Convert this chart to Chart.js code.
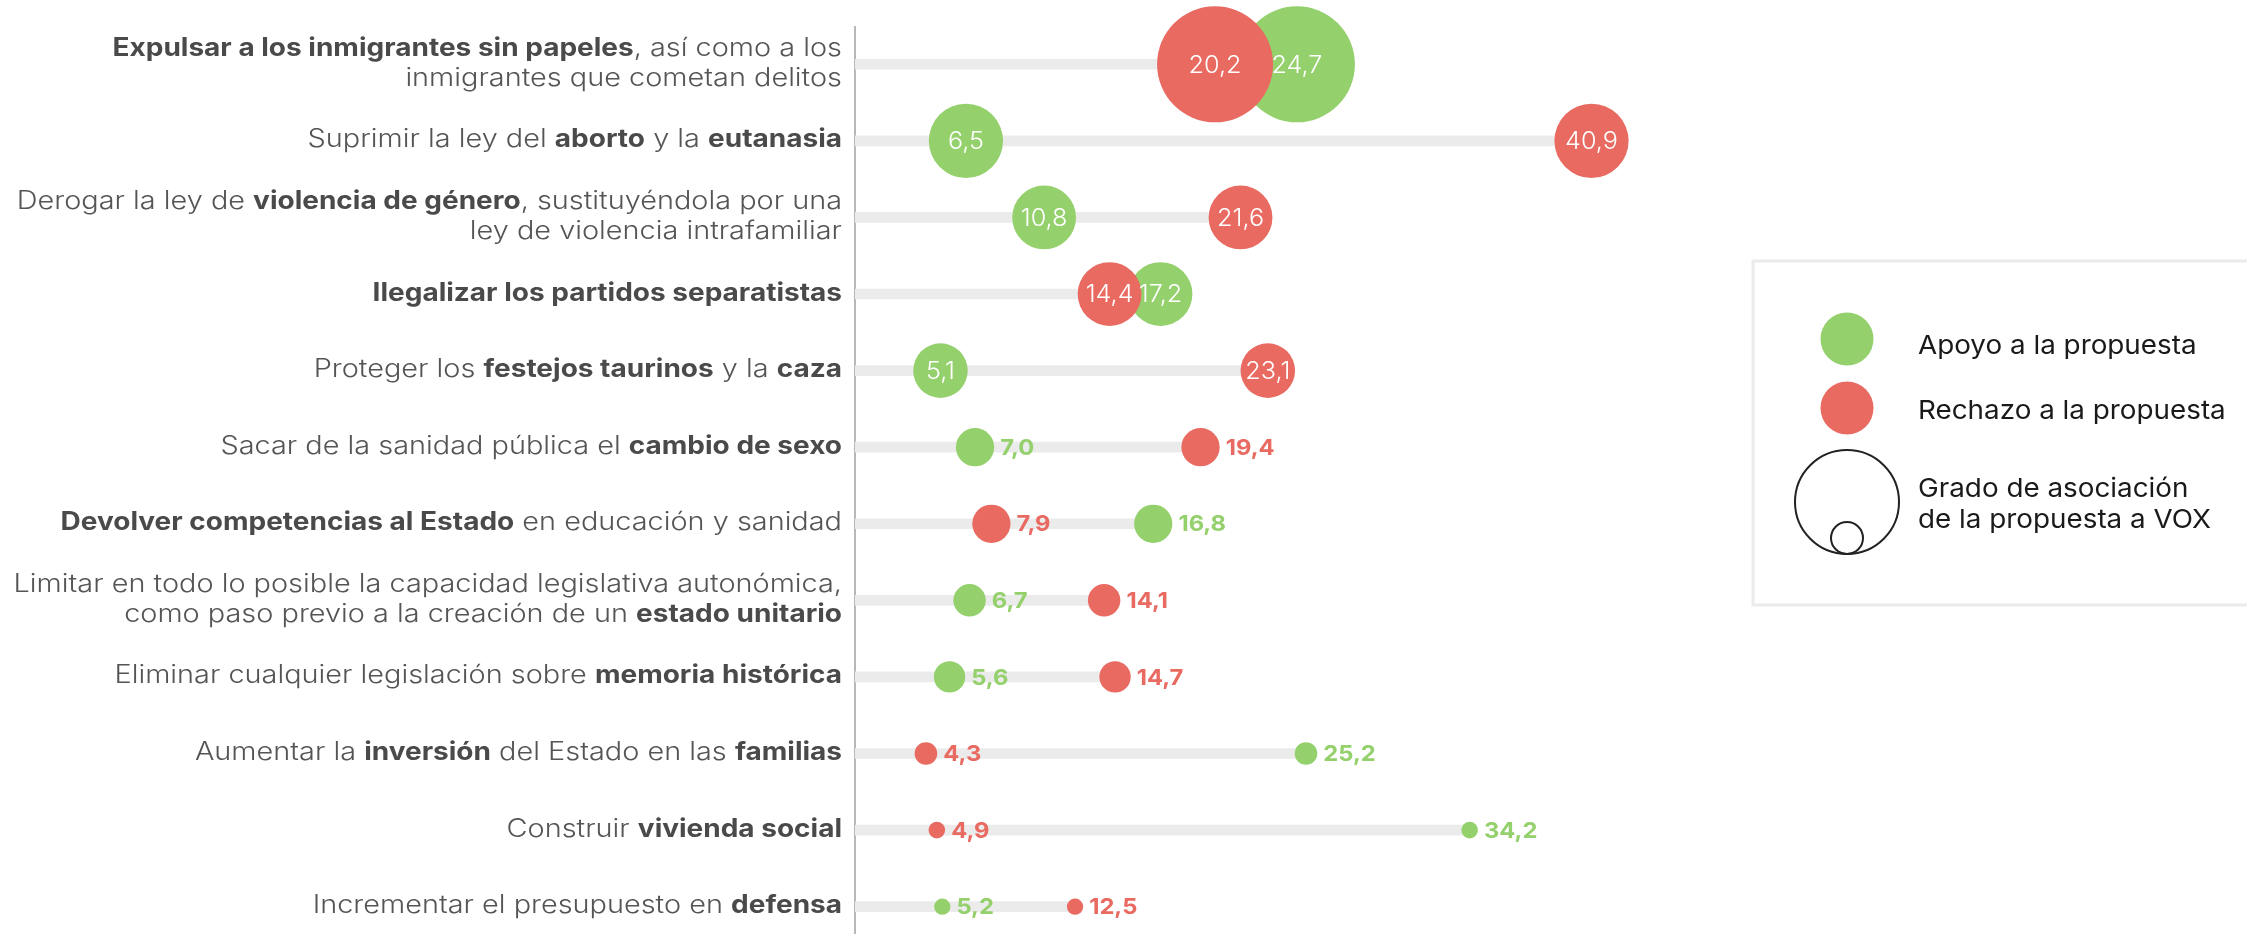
<!DOCTYPE html>
<html lang="es">
<head>
<meta charset="utf-8">
<title>Propuestas de VOX</title>
<script src="https://cdn.jsdelivr.net/npm/chart.js@4.4.1/dist/chart.umd.min.js"></script>
<style>
  html, body { margin: 0; padding: 0; background: #fff; }
  #wrap { position: relative; width: 2247px; height: 934px; }
</style>
</head>
<body>
<div id="wrap"><canvas id="myChart"></canvas></div>
<script>
'use strict';

// propuestas; el texto entre ** va en negrita
const propuestas = [
    ['**Expulsar a los inmigrantes sin papeles**, así como a los', 'inmigrantes que cometan delitos'],
    'Suprimir la ley del **aborto** y la **eutanasia**',
    ['Derogar la ley de **violencia de género**, sustituyéndola por una', 'ley de violencia intrafamiliar'],
    '**Ilegalizar los partidos separatistas**',
    'Proteger los **festejos taurinos** y la **caza**',
    'Sacar de la sanidad pública el **cambio de sexo**',
    '**Devolver competencias al Estado** en educación y sanidad',
    ['Limitar en todo lo posible la capacidad legislativa autonómica,', 'como paso previo a la creación de un **estado unitario**'],
    'Eliminar cualquier legislación sobre **memoria histórica**',
    'Aumentar la **inversión** del Estado en las **familias**',
    'Construir **vivienda social**',
    'Incrementar el presupuesto en **defensa**'
];
const apoyo = [24.7, 6.5, 10.8, 17.2, 5.1, 7.0, 16.8, 6.7, 5.6, 25.2, 34.2, 5.2];
const rechazo = [20.2, 40.9, 21.6, 14.4, 23.1, 19.4, 7.9, 14.1, 14.7, 4.3, 4.9, 12.5];
const asociacion = [100, 64, 55, 55, 47, 33, 33, 28, 27, 19.5, 14.3, 14];

const VERDE = '#94d06c';
const ROJO = '#e86a61';
const FONT = 'Inter, "Open Sans", sans-serif';

const fmt = v => v.toFixed(1).replace('.', ',');
const radio = a => a * 0.58;

// texto algo más ancho, para parecerse a la tipografía original
const texto = (ctx, t, x, y, sx) => {
    ctx.save();
    ctx.translate(x, y);
    ctx.scale(sx, 1);
    ctx.fillText(t, 0, 0);
    ctx.restore();
};

const etiquetas = {
    id: 'etiquetas',
    beforeDatasetsDraw(chart) {
        const {ctx, chartArea} = chart;
        ctx.save();
        ctx.strokeStyle = '#a0a0a0';
        ctx.lineWidth = 1.5;
        ctx.beginPath();
        ctx.moveTo(chartArea.left, chartArea.top);
        ctx.lineTo(chartArea.left, chart.height);
        ctx.stroke();
        ctx.restore();
    },
    afterDatasetsDraw(chart) {
        const {ctx, chartArea} = chart;
        const xs = chart.scales.x;
        const ys = chart.scales.y;
        ctx.save();

        // valores
        [[apoyo, VERDE], [rechazo, ROJO]].forEach(([serie, color]) => {
            serie.forEach((v, i) => {
                const cx = xs.getPixelForValue(v);
                const cy = ys.getPixelForValue(i);
                const r = radio(asociacion[i]);
                ctx.textBaseline = 'middle';
                if (r > 24) {
                    ctx.font = '300 24px ' + FONT;
                    ctx.fillStyle = '#ffffff';
                    ctx.textAlign = 'center';
                    texto(ctx, fmt(v), cx, cy + 1, 1.05);
                } else {
                    ctx.font = '700 22px ' + FONT;
                    ctx.fillStyle = color;
                    ctx.textAlign = 'left';
                    texto(ctx, fmt(v), cx + r + 6, cy + 1, 1.08);
                }
            });
        });

        // textos de las propuestas
        ctx.textAlign = 'left';
        ctx.textBaseline = 'middle';
        const fuente = k => (k % 2 ? '700 25px ' : '300 25px ') + FONT;
        const ancho = k => (k % 2 ? 1.12 : 1.155);
        propuestas.forEach((p, i) => {
            const lineas = Array.isArray(p) ? p : [p];
            const cy = ys.getPixelForValue(i) - 1;
            lineas.forEach((linea, li) => {
                const ly = cy + (li - (lineas.length - 1) / 2) * 30;
                const trozos = linea.split('**');
                let w = 0;
                trozos.forEach((t, k) => { ctx.font = fuente(k); w += ctx.measureText(t).width * ancho(k); });
                let px = chartArea.left - 13 - w;
                trozos.forEach((t, k) => {
                    ctx.font = fuente(k);
                    ctx.fillStyle = k % 2 ? '#4a4a4a' : '#555555';
                    texto(ctx, t, px, ly, ancho(k));
                    px += ctx.measureText(t).width * ancho(k);
                });
            });
        });

        // leyenda
        ctx.strokeStyle = '#ebebeb';
        ctx.lineWidth = 3;
        ctx.strokeRect(1753, 261, 520, 344);
        ctx.fillStyle = VERDE;
        ctx.beginPath(); ctx.arc(1847, 339, 26.5, 0, Math.PI * 2); ctx.fill();
        ctx.fillStyle = ROJO;
        ctx.beginPath(); ctx.arc(1847, 408, 26.5, 0, Math.PI * 2); ctx.fill();
        ctx.strokeStyle = '#222222';
        ctx.lineWidth = 2;
        ctx.beginPath(); ctx.arc(1847, 502, 52, 0, Math.PI * 2); ctx.stroke();
        ctx.beginPath(); ctx.arc(1847, 538, 16, 0, Math.PI * 2); ctx.stroke();
        ctx.font = '400 26px ' + FONT;
        ctx.fillStyle = '#1a1a1a';
        ctx.textAlign = 'left';
        ctx.textBaseline = 'alphabetic';
        texto(ctx, 'Apoyo a la propuesta', 1918, 354, 1.07);
        texto(ctx, 'Rechazo a la propuesta', 1918, 419, 1.07);
        texto(ctx, 'Grado de asociación', 1918, 497, 1.07);
        texto(ctx, 'de la propuesta a VOX', 1918, 528, 1.07);

        ctx.restore();
    }
};

const ctx = document.getElementById('myChart').getContext('2d');
const myChart = new Chart(ctx, {
    type: 'bubble',
    data: {
        datasets: [{
            type: 'bar',
            label: 'fondo',
            indexAxis: 'y',
            data: apoyo.map((v, i) => ({x: Math.max(v, rechazo[i]), y: i})),
            backgroundColor: '#ebebeb',
            borderWidth: 0,
            barThickness: 10,
            order: 3
        }, {
            label: 'Apoyo a la propuesta',
            data: apoyo.map((v, i) => ({x: v, y: i, r: radio(asociacion[i])})),
            backgroundColor: VERDE,
            borderWidth: 0,
            hoverRadius: 0,
            clip: false,
            order: 2
        }, {
            label: 'Rechazo a la propuesta',
            data: rechazo.map((v, i) => ({x: v, y: i, r: radio(asociacion[i])})),
            backgroundColor: ROJO,
            borderWidth: 0,
            hoverRadius: 0,
            clip: false,
            order: 1
        }]
    },
    options: {
        responsive: true,
        maintainAspectRatio: false,
        animation: false,
        layout: {
            autoPadding: false,
            padding: {left: 855, right: 490, top: 26, bottom: 12}
        },
        scales: {
            x: {type: 'linear', min: 0.4, max: 50, offset: false, display: false},
            y: {type: 'linear', min: -0.5, max: 11.2, reverse: true, offset: false, display: false}
        },
        plugins: {
            legend: {display: false},
            tooltip: {enabled: false}
        }
    },
    plugins: [etiquetas]
});
</script>
</body>
</html>
